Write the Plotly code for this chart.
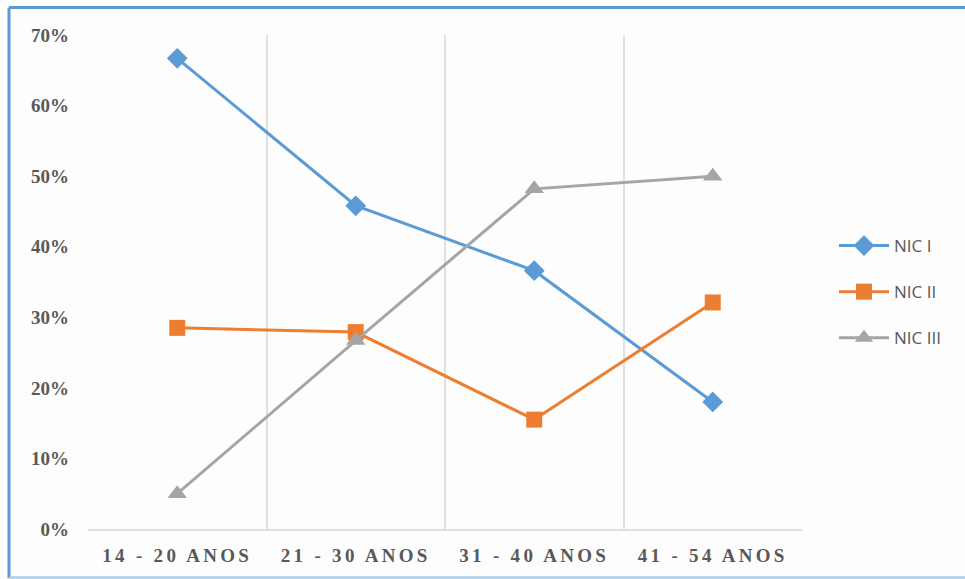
import plotly.graph_objects as go

# Age groups and share of each NIC grade (%)
age_groups = ["14 - 20 ANOS", "21 - 30 ANOS", "31 - 40 ANOS", "41 - 54 ANOS"]
nic_1 = [66.7, 45.8, 36.6, 18.0]
nic_2 = [28.5, 27.9, 15.5, 32.1]
nic_3 = [5.0, 26.7, 48.2, 50.0]
y_ticks = [0, 10, 20, 30, 40, 50, 60, 70]

W, H = 965, 579
L, R, T, B = 88, 163, 35, 50
plot_w, plot_h = W - L - R, H - T - B


def px_x(px):
    return (px - L) / plot_w


def px_y(py):
    return (H - B - py) / plot_h


series = [
    ("NIC I", nic_1, "#5B9BD5", "diamond", 16),
    ("NIC II", nic_2, "#ED7D31", "square", 16),
    ("NIC III", nic_3, "#A5A5A5", "triangle-up", 17),
]

fig = go.Figure()
for name, vals, color, symbol, size in series:
    fig.add_trace(go.Scatter(
        x=age_groups, y=vals, name=name, mode="lines+markers",
        legendgroup=name,
        line=dict(color=color, width=3),
        marker=dict(symbol=symbol, size=size, color=color),
    ))

label_font = dict(family="Liberation Serif", size=19, color="#595959", weight="bold")

fig.update_layout(
    width=W, height=H,
    margin=dict(l=L, r=R, t=T, b=B),
    paper_bgcolor="#FDFDFD",
    plot_bgcolor="#FDFDFD",
    showlegend=True,
    legend=dict(
        x=px_x(834), y=px_y(292), xanchor="left", yanchor="middle",
        font=dict(family="Open Sans", size=17, color="#595959"),
        tracegroupgap=21,
        itemwidth=50,
        bgcolor="rgba(0,0,0,0)",
    ),
    xaxis=dict(
        type="category",
        tickmode="array",
        tickvals=age_groups,
        ticktext=[f'<span style="letter-spacing:3.3px">{a}</span>' for a in age_groups],
        tickson="boundaries",
        ticks="",
        showgrid=True, gridcolor="#E0E0E0", gridwidth=1.5,
        showline=True, linecolor="#E0E0E0", linewidth=1.5,
        tickfont=label_font,
        ticklabelstandoff=8,
        range=[-0.5, 3.5],
        zeroline=False,
    ),
    yaxis=dict(
        range=[0, 70],
        tickvals=y_ticks,
        ticktext=[f"{v}%" for v in y_ticks],
        showgrid=False, zeroline=False, showline=False,
        ticks="",
        tickfont=label_font,
        ticklabelstandoff=18,
    ),
)

# Frame around the figure
frame = [
    (px_x(9), px_y(7.5), px_x(975), px_y(7.5), "#5B9BD5", 3),
    (px_x(9), px_y(7.5), px_x(9), px_y(578), "#5B9BD5", 3),
    (px_x(9), px_y(577.5), px_x(975), px_y(577.5), "#A9CDEB", 2.5),
]
for x0, y0, x1, y1, c, w in frame:
    fig.add_shape(type="line", xref="paper", yref="paper",
                  x0=x0, y0=y0, x1=x1, y1=y1,
                  line=dict(color=c, width=w), layer="above")

fig.write_html("out.html")
